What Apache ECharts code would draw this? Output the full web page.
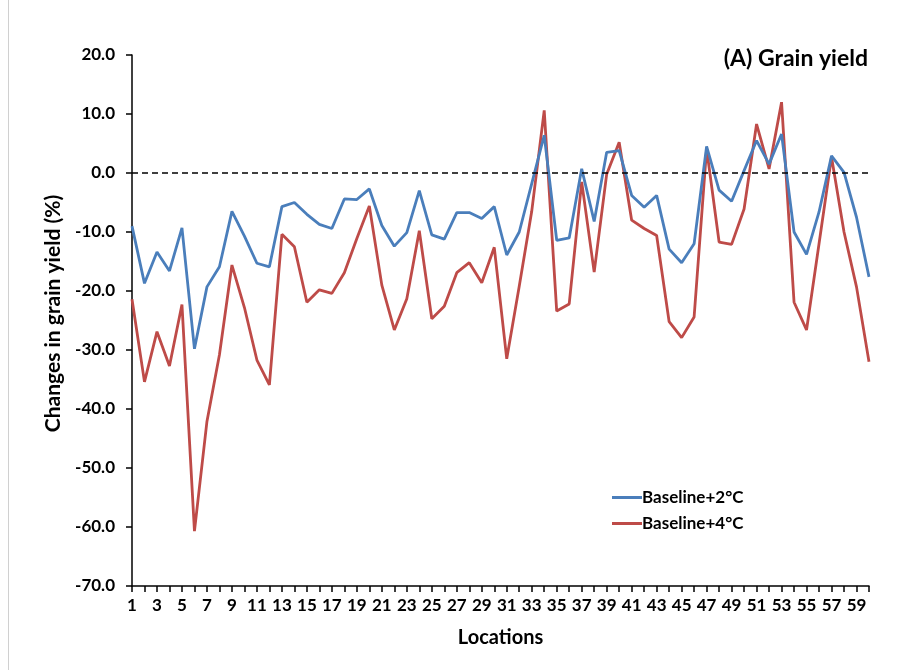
<!DOCTYPE html>
<html>
<head>
<meta charset="utf-8">
<script src="https://cdn.jsdelivr.net/npm/echarts@6/dist/echarts.min.js"></script>
<style>
html,body{margin:0;padding:0;background:#fff;}
#chart{width:899px;height:670px;}
</style>
</head>
<body>
<div id="chart"></div>
<script>
const locations = Array.from({length: 60}, (_, i) => String(i + 1));
const baseline2C = [
  -9.0, -18.7, -13.4, -16.6, -9.3, -29.8, -19.3, -15.9, -6.5, -10.7,
  -15.3, -15.9, -5.7, -5.0, -7.0, -8.7, -9.4, -4.4, -4.5, -2.7,
  -8.9, -12.4, -10.1, -3.0, -10.5, -11.2, -6.7, -6.7, -7.7, -5.7,
  -13.9, -10.0, -1.8, 6.4, -11.4, -11.0, 0.7, -8.2, 3.5, 3.8,
  -3.8, -5.8, -3.8, -12.9, -15.2, -12.0, 4.5, -2.9, -4.8, 0.4,
  5.5, 1.5, 6.6, -10.0, -13.8, -6.6, 2.9, 0.1, -7.5, -17.6
];
const baseline4C = [
  -21.4, -35.4, -26.9, -32.7, -22.3, -60.7, -42.1, -30.8, -15.6, -22.8,
  -31.7, -35.9, -10.4, -12.5, -21.9, -19.8, -20.4, -16.9, -11.1, -5.6,
  -19.0, -26.6, -21.3, -9.8, -24.7, -22.6, -16.9, -15.2, -18.6, -12.6,
  -31.5, -19.2, -6.5, 10.6, -23.4, -22.2, -1.5, -16.8, -0.2, 5.2,
  -8.0, -9.4, -10.6, -25.2, -27.9, -24.4, 4.1, -11.7, -12.1, -6.1,
  8.3, 0.7, 12.0, -21.9, -26.6, -12.0, 2.7, -10.0, -19.3, -32.0
];
const seriesNames = ['Baseline+2°C', 'Baseline+4°C'];
const yMin = -70, yMax = 20, yStep = 10;

const FONT = 'Lato';
const chart = echarts.init(document.getElementById('chart'), null, {renderer: 'canvas'});
chart.setOption({
  animation: false,
  backgroundColor: '#ffffff',
  textStyle: {fontFamily: FONT},
  title: {
    text: '(A) Grain yield',
    right: 26, top: 42,
    textStyle: {fontFamily: FONT, fontWeight: 'bold', fontSize: 23, color: '#000'}
  },
  graphic: [{
    type: 'line', shape: {x1: 8.5, y1: 0, x2: 8.5, y2: 670},
    style: {stroke: '#d0d0d0', lineWidth: 1}
  }],
  legend: {
    orient: 'vertical',
    left: 607, top: 484,
    itemWidth: 30, itemHeight: 3, itemGap: 9,
    icon: 'rect',
    textStyle: {fontFamily: FONT, fontWeight: 'bold', fontSize: 17, color: '#000', padding: [0, 0, 0, -5]},
    data: seriesNames
  },
  grid: {left: 132, right: 30, top: 55, bottom: 84, containLabel: false},
  xAxis: {
    type: 'category',
    data: locations,
    boundaryGap: false,
    name: 'Locations',
    nameLocation: 'middle',
    nameGap: 42,
    nameTextStyle: {fontFamily: FONT, fontWeight: 'bold', fontSize: 20, color: '#000'},
    axisLine: {onZero: false, lineStyle: {color: '#000', width: 1.5}},
    axisTick: {show: true, inside: false, length: 6, interval: 0, lineStyle: {color: '#000', width: 1.5}},
    axisLabel: {interval: 1, margin: 11, fontFamily: FONT, fontWeight: 'bold', fontSize: 17, color: '#000'},
    splitLine: {show: false}
  },
  yAxis: {
    type: 'value',
    min: yMin, max: yMax, interval: yStep,
    name: 'Changes in grain yield (%)',
    nameLocation: 'middle',
    nameGap: 59,
    nameRotate: 90,
    nameTextStyle: {fontFamily: FONT, fontWeight: 'bold', fontSize: 21, color: '#000', padding: [0, 0, 0, 14]},
    axisLine: {show: true, onZero: false, lineStyle: {color: '#000', width: 1.5}},
    axisTick: {show: true, length: 6, lineStyle: {color: '#000', width: 1.5}},
    axisLabel: {margin: 17, fontFamily: FONT, fontWeight: 'bold', fontSize: 17, color: '#000',
      formatter: v => v.toFixed(1)},
    splitLine: {show: false}
  },
  series: [
    {
      name: seriesNames[0], type: 'line', data: baseline2C,
      symbol: 'none', color: '#4A7EBB',
      lineStyle: {width: 2.8, color: '#4A7EBB'},
      markLine: {
        silent: true, symbol: 'none', label: {show: false},
        lineStyle: {color: '#000', type: [6, 4], width: 1.6},
        data: [{yAxis: 0}]
      },
      z: 3
    },
    {
      name: seriesNames[1], type: 'line', data: baseline4C,
      symbol: 'none', color: '#BE4B48',
      lineStyle: {width: 2.8, color: '#BE4B48'},
      z: 2
    }
  ]
});
</script>
</body>
</html>
